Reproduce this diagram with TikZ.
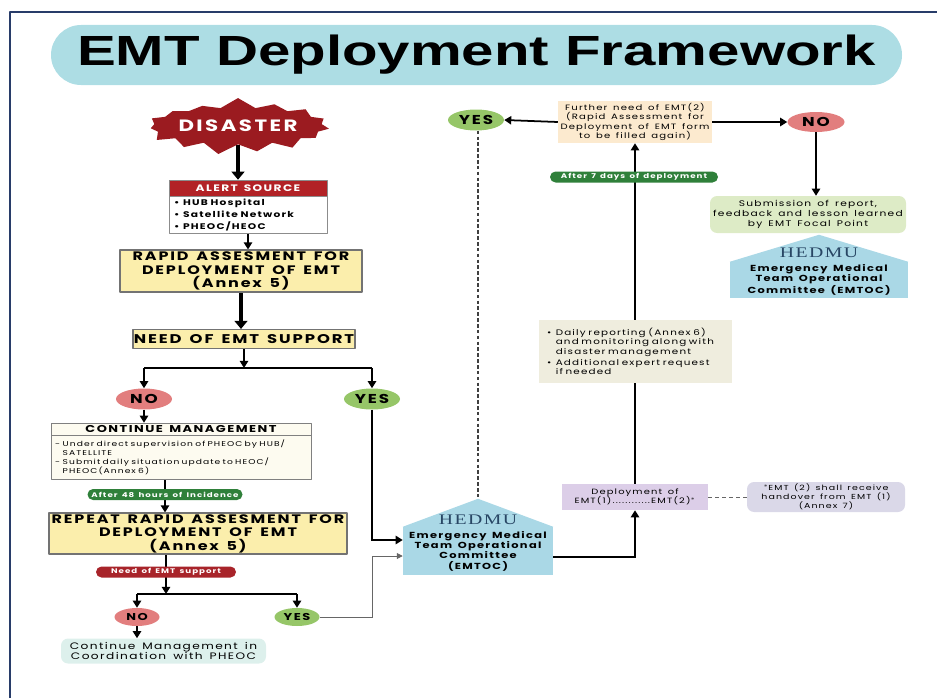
\documentclass[tikz,border=0pt]{standalone}
\usepackage{fontspec}
\setmainfont{Poppins}[LetterSpace=15, FakeStretch=1.3, WordSpace=1.5]
\newfontfamily\headfont{Liberation Sans}
\newfontfamily\hedmufont{Liberation Serif}[LetterSpace=10, FakeStretch=1.35]
\usetikzlibrary{positioning,shapes.symbols,shapes.misc,shapes.geometric,arrows.meta,backgrounds}

\definecolor{titlecyan}{RGB}{173,221,228}
\definecolor{disred}{RGB}{155,27,32}
\definecolor{alertred}{RGB}{178,34,38}
\definecolor{boxyellow}{RGB}{251,238,172}
\definecolor{nored}{RGB}{226,126,126}
\definecolor{yesgreen}{RGB}{150,198,104}
\definecolor{pillgreen}{RGB}{47,128,58}
\definecolor{pillred}{RGB}{168,36,42}
\definecolor{softcream}{RGB}{253,251,240}
\definecolor{mintbox}{RGB}{221,240,236}
\definecolor{hedblue}{RGB}{170,216,230}
\definecolor{hedtext}{RGB}{40,70,100}
\definecolor{lavender}{RGB}{220,206,232}
\definecolor{greylav}{RGB}{218,216,232}
\definecolor{dailybeige}{RGB}{239,237,222}
\definecolor{peach}{RGB}{252,234,207}
\definecolor{lightlime}{RGB}{221,235,198}
\definecolor{framenavy}{RGB}{40,60,105}

\newcommand{\fsz}[2]{\fontsize{#1}{#2}\selectfont}
% one list entry with a hanging marker
\newcommand{\bitem}[2][\textbullet]{\noindent\makebox[1.1em][l]{#1}\parbox[t]{\dimexpr\linewidth-1.1em}{\raggedright #2}\par\vspace{1.5pt}}

\tikzset{
  yellowbox/.style={draw=black!55, line width=0.9pt, fill=boxyellow, align=center, inner sep=0pt, font=\bfseries\fsz{10.5}{11.5}},
  choice/.style={ellipse, inner sep=0pt, font=\bfseries\fsz{11}{11}},
  nobubble/.style={choice, fill=nored},
  yesbubble/.style={choice, fill=yesgreen},
  tag/.style={rounded rectangle, inner sep=0pt, text=white, font=\bfseries\fsz{5.7}{6.5}},
  softbox/.style={rounded corners=6pt, inner sep=0pt, align=center, font=\fsz{7}{8.3}},
  committee/.style={fill=hedblue, inner sep=0pt, align=center, font=\bfseries\fsz{7.5}{8.8}},
  hedlabel/.style={font=\hedmufont\fsz{12.5}{12.5}, text=hedtext, inner sep=0pt},
  flow/.style={-{Triangle[length=6pt,width=7pt]}, line width=1.5pt},
  bigflow/.style={-{Triangle[length=7pt,width=11pt]}, line width=3pt},
  thinflow/.style={-{Triangle[length=5pt,width=5pt]}, line width=0.8pt, black!60}
}

\begin{document}
\begin{tikzpicture}[x=0.3mm, y=-0.3mm, line join=round]
  \def\unitpx{0.3mm}
  \useasboundingbox (0,0) rectangle (937,698);
  \draw[framenavy, line width=1.2pt] (10,698) |- (937,12);

  % heading
  \node[rounded rectangle, fill=titlecyan, minimum width=851*\unitpx, minimum height=60*\unitpx, inner sep=0pt] (title) at (476.5,55)
    {\headfont\bfseries\fsz{36}{36}\scalebox{1.38}[1]{EMT Deployment Framework}};

  % left column
  \node[starburst, starburst points=15, starburst point height=3.2mm, random starburst=7, fill=disred, text=white,
    font=\bfseries\fsz{14}{14}, inner xsep=0pt, inner ysep=6pt] (disaster) at (238,126) {DISASTER};
  \node[fill=alertred, draw=black!45, text=white, font=\bfseries\fsz{8}{9}, minimum width=158*\unitpx, minimum height=16*\unitpx, inner sep=0pt] (alert) at (248,188) {ALERT SOURCE};
  \node[draw=black!45, fill=white, below=0pt of alert, text width=148*\unitpx, minimum width=158*\unitpx, minimum height=37*\unitpx,
    inner xsep=5*\unitpx, inner ysep=2pt, align=left, font=\bfseries\fsz{7}{8.5}] (alertlist)
    {\bitem{HUB Hospital}\bitem{Satellite Network}\bitem{PHEOC/HEOC}};
  \node[yellowbox, minimum width=242*\unitpx, minimum height=42*\unitpx] (rapid) at (241,271) {RAPID ASSESMENT FOR\\DEPLOYMENT OF EMT\\(Annex 5)};
  \node[yellowbox, font=\bfseries\fsz{10.8}{11}, minimum width=222*\unitpx, minimum height=19*\unitpx] (need) at (244,339) {NEED OF EMT SUPPORT};
  \coordinate (fork1) at (244,368);
  \node[nobubble, minimum width=56*\unitpx, minimum height=21*\unitpx] (no1) at (144,399) {NO};
  \node[yesbubble, minimum width=56*\unitpx, minimum height=21*\unitpx] (yes1) at (372,399) {YES};
  \node[draw=black!50, fill=softcream, minimum width=260*\unitpx, minimum height=12*\unitpx, inner sep=0pt, font=\bfseries\fsz{8.5}{9}] (cont) at (181,429) {CONTINUE MANAGEMENT};
  \node[draw=black!50, fill=softcream, below=0pt of cont, text width=252*\unitpx, minimum width=260*\unitpx, minimum height=44*\unitpx,
    inner xsep=4*\unitpx, inner ysep=2pt, align=left, font=\fsz{6}{7.5}] (contlist)
    {\bitem[-]{Under direct supervision of PHEOC by HUB/\\SATELLITE}\bitem[-]{Submit daily situation update to HEOC/\\PHEOC(Annex 6)}};
  \node[tag, fill=pillgreen, minimum width=155*\unitpx, minimum height=11*\unitpx] (after48) at (165,494.5) {After 48 hours of Incidence};
  \node[yellowbox, minimum width=298*\unitpx, minimum height=41*\unitpx] (repeat) at (198,533.5) {REPEAT RAPID ASSESMENT FOR\\DEPLOYMENT OF EMT\\(Annex 5)};
  \node[tag, fill=pillred, minimum width=140*\unitpx, minimum height=11*\unitpx] (needtag) at (166,572) {Need of EMT support};
  \coordinate (fork2) at (166,594);
  \node[nobubble, font=\bfseries\fsz{8.5}{9}, minimum width=45*\unitpx, minimum height=18*\unitpx] (no2) at (137,617) {NO};
  \node[yesbubble, font=\bfseries\fsz{8.5}{9}, minimum width=45*\unitpx, minimum height=18*\unitpx] (yes2) at (297,617) {YES};
  \node[softbox, fill=mintbox, minimum width=205*\unitpx, minimum height=25*\unitpx, font=\fsz{8}{8.8}] (coord) at (163.5,651) {Continue Management in\\Coordination with PHEOC};

  % committee in the middle
  \node[committee, minimum width=150*\unitpx, minimum height=48*\unitpx] (emtoc) at (478,551) {Emergency Medical\\Team Operational\\Committee\\(EMTOC)};
  \coordinate (roof1) at ([yshift=28*\unitpx]emtoc.north);
  \fill[hedblue] (emtoc.north west) -- (roof1) -- (emtoc.north east) -- cycle;
  \node[hedlabel] (hedmu1) at ([yshift=7*\unitpx]emtoc.north) {HEDMU};
  \coordinate (in1) at ([yshift=11*\unitpx]emtoc.west);
  \coordinate (in2) at ([yshift=-5*\unitpx]emtoc.west);
  \coordinate (out1) at ([yshift=-6*\unitpx]emtoc.east);

  % right column
  \node[yesbubble, minimum width=56*\unitpx, minimum height=21*\unitpx] (yes3) at (476,120) {YES};
  \node[softbox, rounded corners=0pt, fill=peach, minimum width=154*\unitpx, minimum height=42*\unitpx, font=\fsz{6.6}{7.9}] (further) at (635,122)
    {Further need of EMT(2)\\(Rapid Assessment for\\Deployment of EMT form\\to be filled again)};
  \node[nobubble, minimum width=57*\unitpx, minimum height=20*\unitpx] (no3) at (816,122) {NO};
  \node[softbox, fill=lightlime, minimum width=196*\unitpx, minimum height=37*\unitpx] (submit) at (808,214.5)
    {Submission of report,\\feedback and lesson learned\\by EMT Focal Point};
  \node[committee, minimum width=178*\unitpx, minimum height=36*\unitpx] (emtoc2) at (819,280) {Emergency Medical\\Team Operational\\Committee (EMTOC)};
  \coordinate (roof2) at ([yshift=27*\unitpx]emtoc2.north);
  \fill[hedblue] (emtoc2.north west) -- (roof2) -- (emtoc2.north east) -- cycle;
  \node[hedlabel] (hedmu2) at ([yshift=9*\unitpx]emtoc2.north) {HEDMU};
  \node[tag, fill=pillgreen, minimum width=168*\unitpx, minimum height=11*\unitpx] (after7) at (634,177) {After 7 days of deployment};
  \node[fill=dailybeige, text width=177*\unitpx, minimum width=193*\unitpx, minimum height=63*\unitpx, inner xsep=8*\unitpx, inner ysep=2pt,
    align=left, font=\fsz{6.8}{7.9}] (daily) at (635.5,351.5)
    {\bitem{Daily reporting (Annex 6)\\and monitoring along with\\disaster management}\bitem{Additional expert request\\if needed}};
  \node[fill=lavender, minimum width=146*\unitpx, minimum height=26*\unitpx, inner sep=0pt, align=center, font=\fsz{6.5}{8}] (deploy) at (635,497)
    {Deployment of\\EMT(1)............EMT(2)$^{*}$};
  \node[softbox, fill=greylav, minimum width=158*\unitpx, minimum height=30*\unitpx, font=\fsz{6.2}{7.5}] (handover) at (826,497)
    {$^{*}$EMT (2) shall receive\\handover from EMT (1)\\(Annex 7)};

  \begin{scope}[on background layer]
    \draw[bigflow] (disaster.south) -- (disaster.south |- alert.north);
    \draw[flow] (alertlist.south) -- (alertlist.south |- rapid.north);
    \draw[bigflow] (rapid.south) -- (rapid.south |- need.north);
    \draw[flow] (need.south) -- (fork1);
    \draw[line width=1.5pt] (no1 |- fork1) -- (yes1 |- fork1);
    \draw[flow] (no1 |- fork1) -- (no1.north);
    \draw[flow] (yes1 |- fork1) -- (yes1.north);
    \draw[flow] (no1.south) -- (no1.south |- cont.north);
    \draw[flow] (after48 |- contlist.south) -- (after48 |- repeat.north);
    \draw[flow] (needtag |- repeat.south) -- (fork2);
    \draw[line width=1.2pt] (no2 |- fork2) -- (yes2 |- fork2);
    \draw[flow] (no2 |- fork2) -- (no2.north);
    \draw[flow] (yes2 |- fork2) -- (yes2.north);
    \draw[flow] (no2.south) -- (coord.north -| no2);
    \draw[flow] (yes1.south) |- (in1);
    \draw[thinflow] (yes2.east) -| (in2 -| yes1) -- (in2);
    \draw[black!75, densely dashed, line width=0.9pt] (roof1 |- yes3.south) -- (roof1);
    \draw[flow] (out1) -| (deploy.south);
    \draw[line width=1.5pt] (deploy.north) -- (deploy.north |- daily.south);
    \draw[flow] (deploy.north |- daily.north) -- (deploy.north |- further.south);
    \draw[flow] (further.west) -- (yes3.east);
    \draw[flow] (further.east) -- (no3.west);
    \draw[flow] (no3.south) -- (submit.north -| no3);
    \draw[black!60, dashed, line width=0.8pt] (deploy.east) -- (handover.west);
  \end{scope}
\end{tikzpicture}
\end{document}
